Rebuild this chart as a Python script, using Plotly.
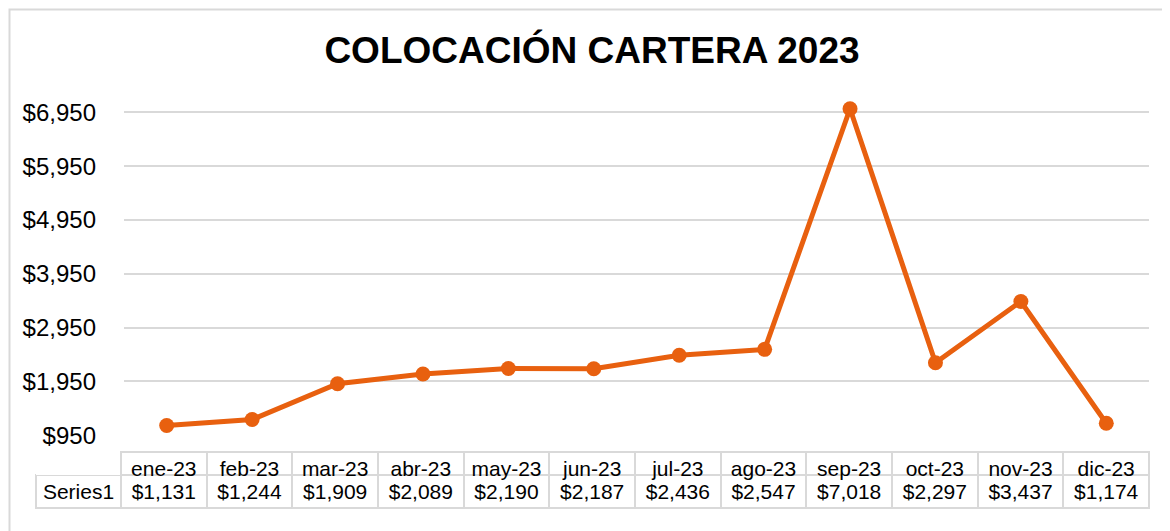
import plotly.graph_objects as go

months = ["ene-23", "feb-23", "mar-23", "abr-23", "may-23", "jun-23",
          "jul-23", "ago-23", "sep-23", "oct-23", "nov-23", "dic-23"]
values = [1131, 1244, 1909, 2089, 2190, 2187, 2436, 2547, 7018, 2297, 3437, 1174]
series_name = "Series1"
tick_values = [950, 1950, 2950, 3950, 4950, 5950, 6950]
title_text = "COLOCACIÓN CARTERA 2023"

# page body has an 8px margin, so the figure is drawn at an 8px offset
OFF = 8
W, H = 1170 - OFF, 531 - OFF
ORANGE = "#E8600F"
GRID = "#D9D9D9"
FONT = "Liberation Sans, Arial, sans-serif"

def px_x(p):
    return (p - OFF) / W

def px_y(p):
    return 1 - (p - OFF) / H

fig = go.Figure()

fig.add_trace(go.Scatter(
    x=months, y=values, mode="lines+markers",
    line=dict(color=ORANGE, width=5),
    marker=dict(color=ORANGE, size=15),
    cliponaxis=False, showlegend=False, hoverinfo="x+y",
))

value_text = ["${:,.0f}".format(v) for v in values]
tick_text = ["${:,.0f}".format(v) for v in tick_values]
n = len(months)
fig.add_trace(go.Table(
    domain=dict(x=[px_x(36), px_x(1149.5)], y=[px_y(512), px_y(452)]),
    columnwidth=[85] + [85.7] * n,
    header=dict(
        values=[""] + months,
        height=23,
        align="center",
        font=dict(family=FONT, size=21, color="black"),
        fill=dict(color="white"),
        line=dict(color=["rgba(0,0,0,0)"] + [GRID] * n, width=2),
    ),
    cells=dict(
        values=[[series_name]] + [[t] for t in value_text],
        height=33,
        align="center",
        font=dict(family=FONT, size=21, color="black"),
        fill=dict(color="white"),
        line=dict(color=GRID, width=2),
    ),
))

fig.update_layout(
    width=W, height=H,
    margin=dict(l=0, r=0, t=0, b=0, autoexpand=False),
    paper_bgcolor="white", plot_bgcolor="white",
    font=dict(family=FONT, color="black"),
    title=dict(text="<b>" + title_text + "</b>", x=px_x(592), xanchor="center",
               y=px_y(50), yanchor="middle", automargin=False,
               font=dict(family=FONT, size=37, color="black")),
    xaxis=dict(domain=[px_x(124), px_x(1149)], type="category",
               range=[-0.5, n - 0.5], showticklabels=False, showgrid=False,
               zeroline=False, showline=False, ticks="", automargin=False),
    yaxis=dict(domain=[px_y(435.3), px_y(107.0)], range=[950, 7050],
               tickmode="array", tickvals=tick_values, ticktext=tick_text,
               showgrid=True, gridcolor=GRID, gridwidth=2,
               zeroline=False, showline=False, ticks="", automargin=False,
               ticklabelstandoff=27,
               tickfont=dict(family=FONT, size=24, color="black")),
    shapes=[dict(type="rect", xref="paper", yref="paper",
                 x0=px_x(9.5), x1=1.05, y0=-0.05, y1=px_y(9.5),
                 line=dict(color=GRID, width=2), fillcolor="rgba(0,0,0,0)",
                 layer="below")],
)

fig.write_html("out.html")
